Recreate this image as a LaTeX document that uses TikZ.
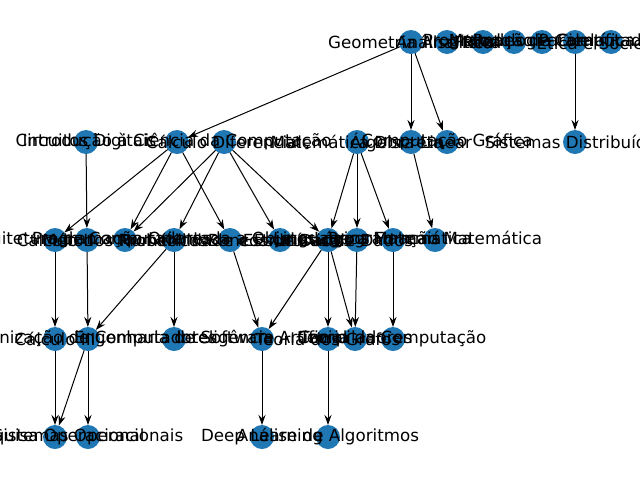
\documentclass[tikz,border=0pt]{standalone}
\usepackage{fontspec}
\setmainfont{DejaVu Sans}
\usetikzlibrary{arrows.meta}
\definecolor{nxblue}{HTML}{1F77B4}
\begin{document}
\begin{tikzpicture}[x=1pt,y=-1pt,
  nd/.style={circle, fill=nxblue, minimum size=24pt, inner sep=0pt, outer sep=0pt},
  lbl/.style={font=\fontsize{16.7}{20}\selectfont, inner sep=0pt, text=black},
  ed/.style={-{Stealth[length=10pt,width=7pt]}, line width=1pt, black}]
\useasboundingbox[fill=white] (0,0) rectangle (640,480);
% nodes
\node[nd] (A0) at (411,42) {};
\node[nd] (A1) at (447,42) {};
\node[nd] (A2) at (483,42) {};
\node[nd] (A3) at (514,42) {};
\node[nd] (A4) at (542,42) {};
\node[nd] (A5) at (575,42) {};
\node[nd] (A6) at (611,42) {};
\node[nd] (B0) at (86,142) {};
\node[nd] (B1) at (177,142) {};
\node[nd] (B2) at (224,142) {};
\node[nd] (B3) at (357,142) {};
\node[nd] (B4) at (411,142) {};
\node[nd] (B5) at (447,142) {};
\node[nd] (B6) at (575,142) {};
\node[nd] (C0) at (55,240) {};
\node[nd] (C1) at (87,240) {};
\node[nd] (C2) at (125,240) {};
\node[nd] (C3) at (174,240) {};
\node[nd] (C4) at (230,240) {};
\node[nd] (C5) at (280,240) {};
\node[nd] (C6) at (328,240) {};
\node[nd] (C7) at (357,240) {};
\node[nd] (C8) at (393,240) {};
\node[nd] (C9) at (435,240) {};
\node[nd] (D0) at (55,339) {};
\node[nd] (D1) at (88,339) {};
\node[nd] (D2) at (174,339) {};
\node[nd] (D3) at (262,339) {};
\node[nd] (D4) at (328,339) {};
\node[nd] (D5) at (355,339) {};
\node[nd] (D6) at (393,339) {};
\node[nd] (E0) at (55,437) {};
\node[nd] (E1) at (88,437) {};
\node[nd] (E2) at (262,437) {};
\node[nd] (E3) at (328,437) {};
% edges
\draw[ed] (A0) -- (B1);
\draw[ed] (A0) -- (B4);
\draw[ed] (A0) -- (B5);
\draw[ed] (A5) -- (B6);
\draw[ed] (B0) -- (C1);
\draw[ed] (B1) -- (C0);
\draw[ed] (B1) -- (C2);
\draw[ed] (B1) -- (C4);
\draw[ed] (B2) -- (C2);
\draw[ed] (B2) -- (C3);
\draw[ed] (B2) -- (C5);
\draw[ed] (B2) -- (C6);
\draw[ed] (B3) -- (C6);
\draw[ed] (B3) -- (C7);
\draw[ed] (B3) -- (C8);
\draw[ed] (B4) -- (C9);
\draw[ed] (C0) -- (D0);
\draw[ed] (C1) -- (D1);
\draw[ed] (C3) -- (D1);
\draw[ed] (C3) -- (D2);
\draw[ed] (C4) -- (D3);
\draw[ed] (C6) -- (D3);
\draw[ed] (C6) -- (D4);
\draw[ed] (C6) -- (D5);
\draw[ed] (C7) -- (D5);
\draw[ed] (C8) -- (D6);
\draw[ed] (D0) -- (E0);
\draw[ed] (D1) -- (E0);
\draw[ed] (D1) -- (E1);
\draw[ed] (D3) -- (E2);
\draw[ed] (D4) -- (E3);
% labels
\node[lbl] (tA0) at (A0) {Geometria Analítica};
\node[lbl] (tA1) at (A1) {Análise Real};
\node[lbl] (tA2) at (A2) {Física I};
\node[lbl] (tA3) at (A3) {Programação Paralela};
\node[lbl] (tA4) at (A4) {Metodologia Científica};
\node[lbl] (tA5) at (A5) {Redes de Computadores};
\node[lbl] (tA6) at (A6) {Ética e Sociedade};
\node[lbl] (tB0) at (B0) {Circuitos Digitais};
\node[lbl] (tB1) at (B1) {Introdução à Ciência da Computação};
\node[lbl] (tB2) at (B2) {Cálculo Diferencial};
\node[lbl] (tB3) at (B3) {Matemática Discreta};
\node[lbl] (tB4) at (B4) {Álgebra Linear};
\node[lbl] (tB5) at (B5) {Computação Gráfica};
\node[lbl] (tB6) at (B6) {Sistemas Distribuídos};
\node[lbl] (tC0) at (C0) {Cálculo II};
\node[lbl] (tC1) at (C1) {Arquitetura de Computadores};
\node[lbl] (tC2) at (C2) {Métodos Numéricos};
\node[lbl] (tC3) at (C3) {Programação Orientada a Objetos};
\node[lbl] (tC4) at (C4) {Probabilidade e Estatística};
\node[lbl] (tC5) at (C5) {Bancos de Dados};
\node[lbl] (tC6) at (C6) {Estruturas de Dados};
\node[lbl] (tC7) at (C7) {Linguagens Formais};
\node[lbl] (tC8) at (C8) {Lógica Matemática};
\node[lbl] (tC9) at (C9) {Programação Matemática};
\node[lbl] (tD0) at (D0) {Cálculo III};
\node[lbl] (tD1) at (D1) {Organização de Computadores};
\node[lbl] (tD2) at (D2) {Engenharia de Software};
\node[lbl] (tD3) at (D3) {Inteligência Artificial};
\node[lbl] (tD4) at (D4) {Teoria dos Grafos};
\node[lbl] (tD5) at (D5) {Compiladores};
\node[lbl] (tD6) at (D6) {Teoria da Computação};
\node[lbl] (tE0) at (E0) {Pesquisa Operacional};
\node[lbl] (tE1) at (E1) {Sistemas Operacionais};
\node[lbl] (tE2) at (E2) {Deep Learning};
\node[lbl] (tE3) at (E3) {Análise de Algoritmos};
\end{tikzpicture}
\end{document}
